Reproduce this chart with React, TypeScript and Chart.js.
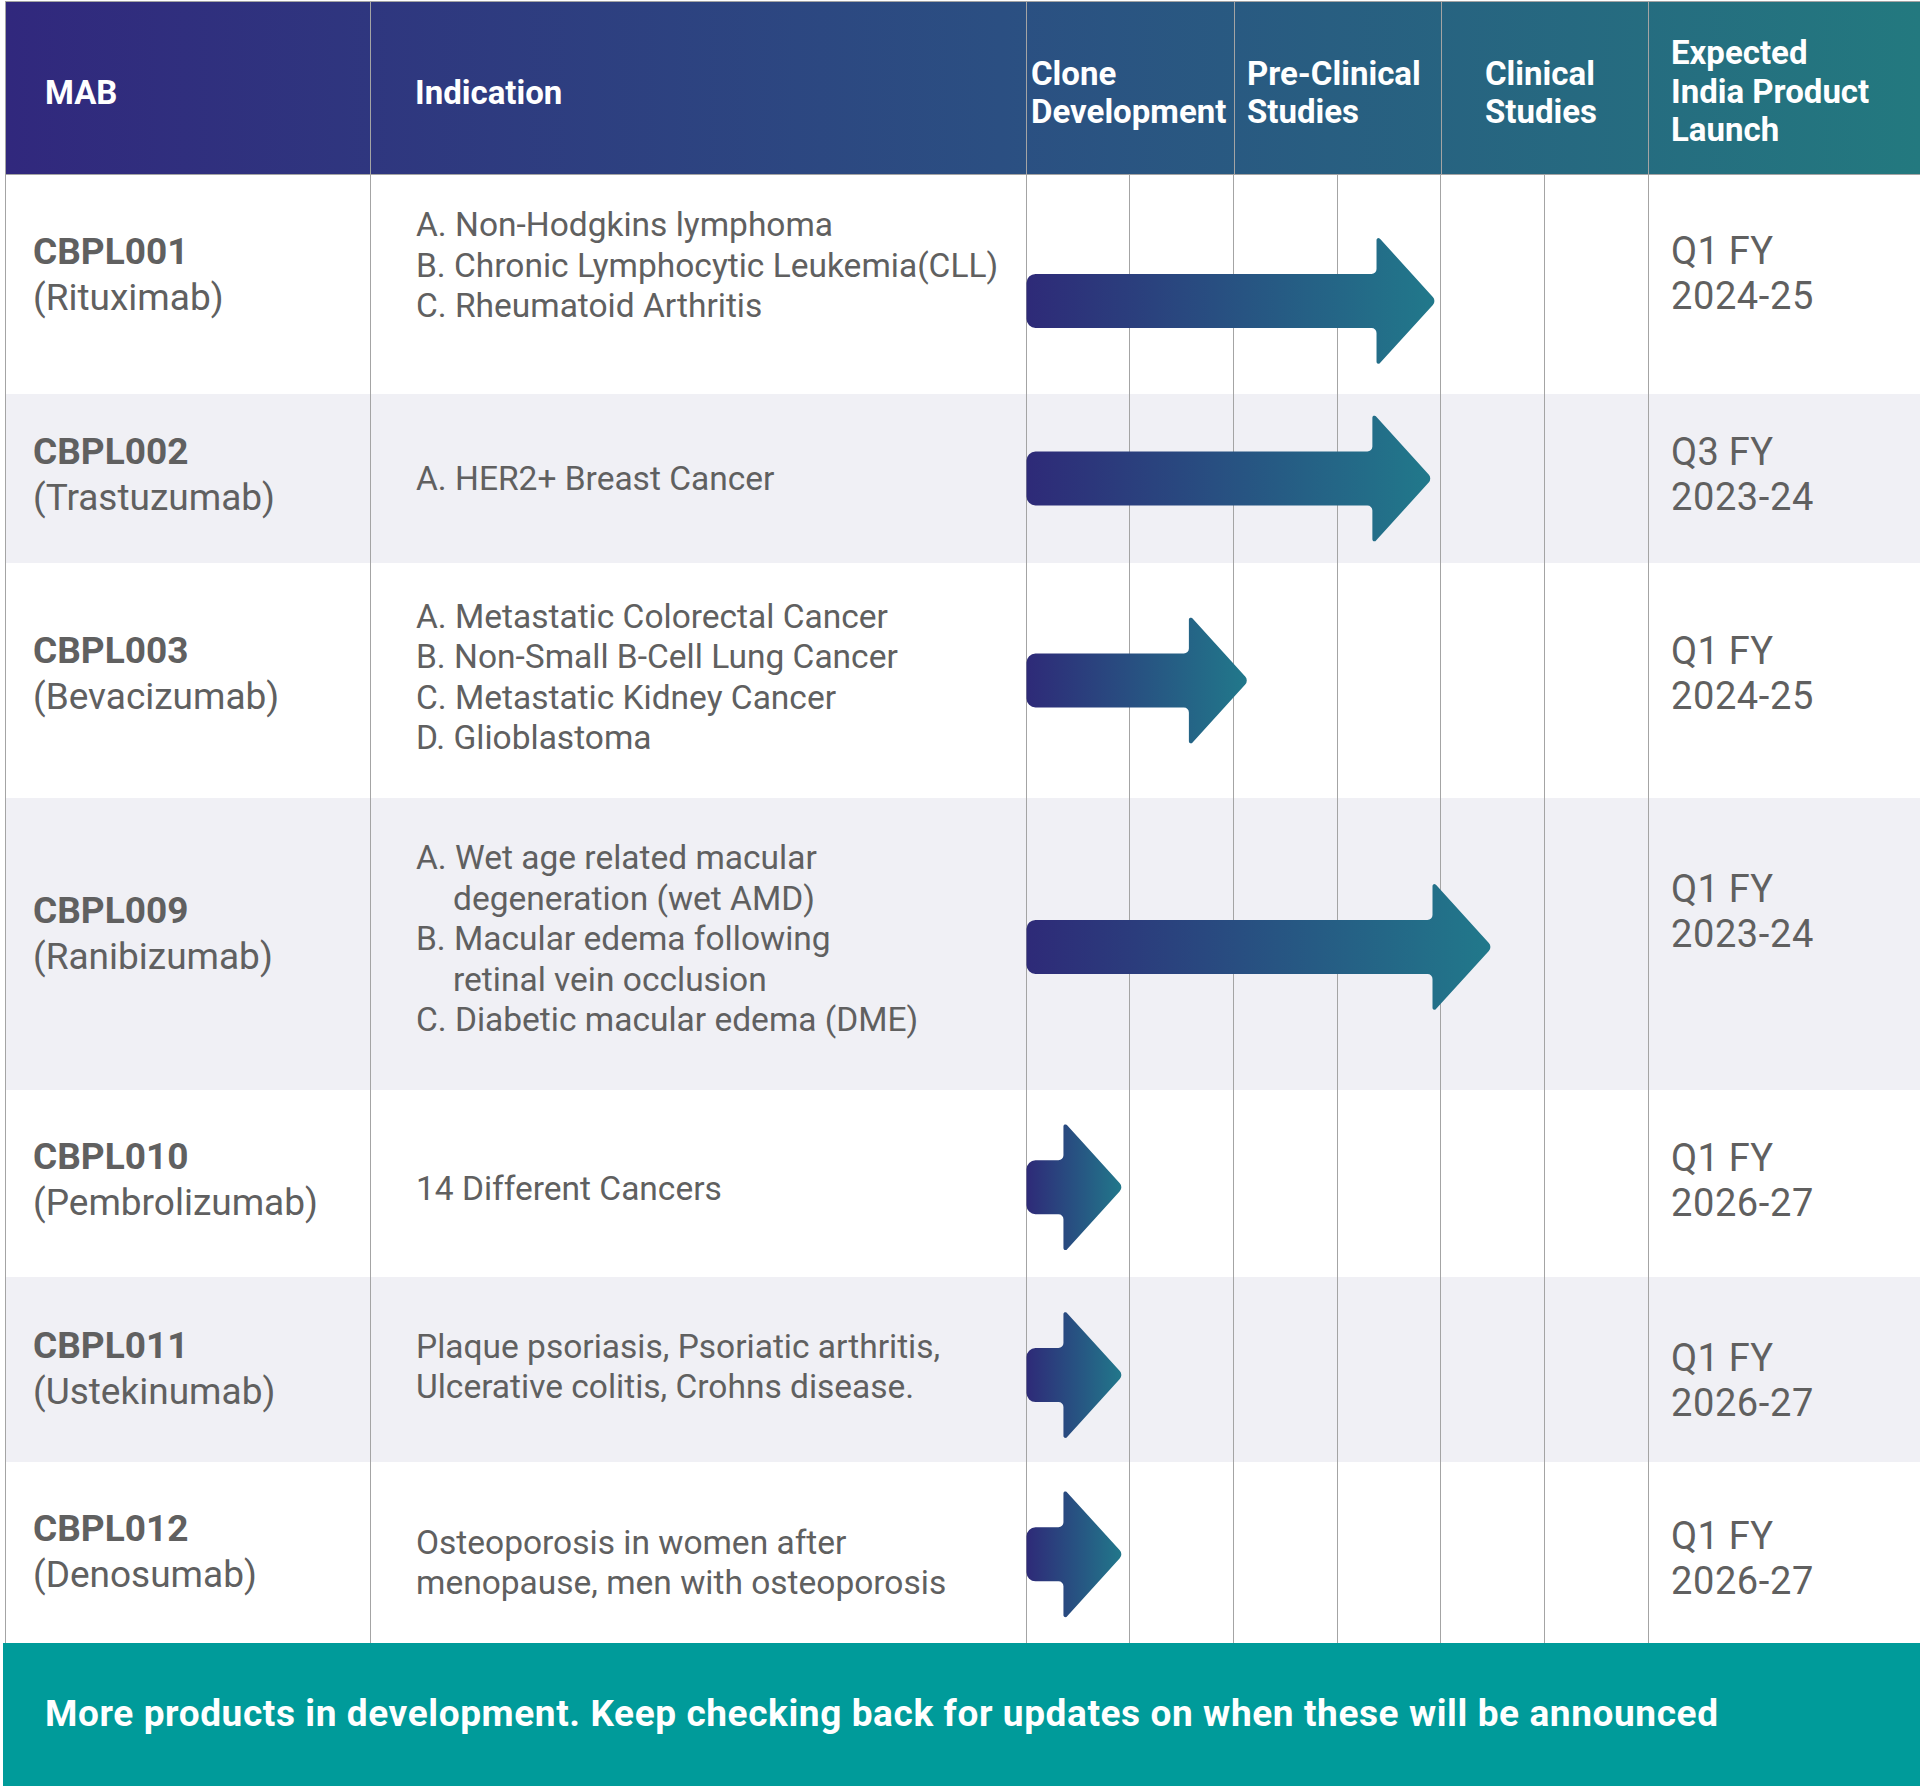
import React, { useEffect, useRef } from "react";
import { Chart, registerables } from "chart.js";

Chart.register(...registerables);

// ---------------- DATA ----------------
const HEADER_MAB = "MAB";
const HEADER_INDICATION = "Indication";
const STAGE_HEADERS: string[][] = [
  ["Clone", "Development"],
  ["Pre-Clinical", "Studies"],
  ["Clinical", "Studies"],
];
const HEADER_LAUNCH: string[] = ["Expected", "India Product", "Launch"];

const MAB_CODES = ["CBPL001", "CBPL002", "CBPL003", "CBPL009", "CBPL010", "CBPL011", "CBPL012"];
const MAB_NAMES = [
  "(Rituximab)",
  "(Trastuzumab)",
  "(Bevacizumab)",
  "(Ranibizumab)",
  "(Pembrolizumab)",
  "(Ustekinumab)",
  "(Denosumab)",
];
// "|" marks a wrapped continuation line (hanging indent)
const INDICATIONS: string[][] = [
  ["A. Non-Hodgkins lymphoma", "B. Chronic Lymphocytic Leukemia(CLL)", "C. Rheumatoid Arthritis"],
  ["A. HER2+ Breast Cancer"],
  [
    "A. Metastatic Colorectal Cancer",
    "B. Non-Small B-Cell Lung Cancer",
    "C. Metastatic Kidney Cancer",
    "D. Glioblastoma",
  ],
  [
    "A. Wet age related macular|degeneration (wet AMD)",
    "B. Macular edema following|retinal vein occlusion",
    "C. Diabetic macular edema (DME)",
  ],
  ["14 Different Cancers"],
  ["Plaque psoriasis, Psoriatic arthritis,", "Ulcerative colitis, Crohns disease."],
  ["Osteoporosis in women after", "menopause, men with osteoporosis"],
];
// progress reached on the stage axis (0..6, each stage spans 2 units)
const PROGRESS = [3.96, 3.92, 2.15, 4.5, 0.94, 0.94, 0.94];
const LAUNCH_QUARTER = ["Q1 FY", "Q3 FY", "Q1 FY", "Q1 FY", "Q1 FY", "Q1 FY", "Q1 FY"];
const LAUNCH_YEAR = ["2024-25", "2023-24", "2024-25", "2023-24", "2026-27", "2026-27", "2026-27"];
const FOOTER_NOTE =
  "More products in development. Keep checking back for updates on when these will be announced";

// ---------------- LAYOUT / STYLE ----------------
const PAGE_W = 1920;
const PAGE_H = 1786;
const HEADER_TOP = 2;
const BODY_TOP = 175;
const ROW_HEIGHTS = [219, 169, 235, 292, 187, 185, 181];
const ARROW_ROW_POS = [0.575, 0.5, 0.5, 0.51, 0.52, 0.53, 0.51]; // vertical placement of arrow within row
const BODY_H = ROW_HEIGHTS.reduce((a, b) => a + b, 0);
const BODY_BOTTOM = BODY_TOP + BODY_H;
const X_LEFT = 5;
const X_IND = 370;
const X_STAGE0 = 1026;
const X_STAGE_END = 1648;
const HEADER_DIVIDERS = [1026, 1234, 1441, 1648];

const MAB_TEXT_Y = [275, 474.5, 674, 934, 1179.5, 1368.5, 1552];
const IND_TEXT_Y = [266, 479, 677.5, 939.5, 1189, 1367, 1563];
const LAUNCH_TEXT_Y = [273.5, 475, 673.5, 911.5, 1181, 1381, 1558.5];

const FONT = "Roboto, 'Liberation Sans', Arial, sans-serif";
const TEXT_COLOR = "#606060";
const LINE_COLOR = "#a4a4a4";
const SHADE = "#f0f0f5";
const TEAL = "#009b9a";
const ARROW_LEFT = "#2e2a78";
const ARROW_RIGHT = "#21798b";
const BAR_THICK = 54;
const HEAD_H = 132;
const HEAD_L = 60;

const CANVAS_LEFT = 1020;
const CANVAS_W = 640;
const PAD_L = X_STAGE0 - CANVAS_LEFT;
const PAD_R = CANVAS_W - PAD_L - (X_STAGE_END - X_STAGE0);

function roundedPoly(ctx: CanvasRenderingContext2D, pts: number[][]) {
  const n = pts.length;
  const first = pts[0];
  const last = pts[n - 1];
  ctx.beginPath();
  ctx.moveTo((last[0] + first[0]) / 2, (last[1] + first[1]) / 2);
  for (let i = 0; i < n; i++) {
    const p = pts[i];
    const q = pts[(i + 1) % n];
    ctx.arcTo(p[0], p[1], q[0], q[1], p[2]);
  }
  ctx.closePath();
}

const arrowPlugin = {
  id: "arrowShapes",
  afterDatasetsDraw(chart: any) {
    const ctx: CanvasRenderingContext2D = chart.ctx;
    const meta = chart.getDatasetMeta(0);
    meta.data.forEach((bar: any) => {
      const { x, y, base, height } = bar.getProps(["x", "y", "base", "height"], true);
      const xs = base;
      const xe = x;
      const bh = height;
      const hh = HEAD_H;
      const hb = xe - HEAD_L;
      const pts = [
        [xs, y - bh / 2, 9],
        [hb, y - bh / 2, 5],
        [hb, y - hh / 2, 2],
        [xe, y, 6],
        [hb, y + hh / 2, 2],
        [hb, y + bh / 2, 5],
        [xs, y + bh / 2, 9],
      ];
      const g = ctx.createLinearGradient(xs, 0, xe, 0);
      g.addColorStop(0, ARROW_LEFT);
      g.addColorStop(1, ARROW_RIGHT);
      ctx.save();
      roundedPoly(ctx, pts);
      ctx.fillStyle = g;
      ctx.fill();
      ctx.restore();
    });
  },
};

function TextLine(props: {
  text: string;
  x: number;
  cy: number;
  size: number;
  lh: number;
  weight?: number;
  color?: string;
  spacing?: number;
}) {
  const { text, x, cy, size, lh, weight = 400, color = TEXT_COLOR, spacing = 0 } = props;
  return (
    <div
      style={{
        position: "absolute",
        left: x,
        top: cy - lh / 2,
        height: lh,
        lineHeight: `${lh}px`,
        fontSize: size,
        fontWeight: weight,
        color,
        letterSpacing: spacing,
        whiteSpace: "nowrap",
      }}
    >
      {text}
    </div>
  );
}

export default function App() {
  const canvasRef = useRef<HTMLCanvasElement>(null);

  const rowTops: number[] = [];
  {
    let acc = 0;
    ROW_HEIGHTS.forEach((h) => {
      rowTops.push(acc);
      acc += h;
    });
  }

  useEffect(() => {
    const canvas = canvasRef.current;
    if (!canvas) return;
    const centers = ROW_HEIGHTS.map((h, i) => rowTops[i] + h * ARROW_ROW_POS[i]);
    const chart = new Chart(canvas, {
      type: "bar",
      data: {
        datasets: [
          {
            data: PROGRESS.map((v, i) => ({ x: [0, v], y: centers[i] })) as any,
            backgroundColor: "rgba(0,0,0,0)",
            borderWidth: 0,
            barThickness: BAR_THICK,
          },
        ],
      },
      options: {
        indexAxis: "y",
        responsive: false,
        animation: false,
        events: [],
        layout: { padding: { left: PAD_L, right: PAD_R, top: 0, bottom: 0 } },
        plugins: { legend: { display: false }, tooltip: { enabled: false } },
        scales: {
          x: {
            type: "linear",
            min: 0,
            max: 6,
            offset: false,
            ticks: { display: false, stepSize: 1 },
            grid: { color: LINE_COLOR, lineWidth: 1, drawTicks: false, offset: false },
            border: { display: false },
          },
          y: {
            type: "linear",
            min: 0,
            max: BODY_H,
            reverse: true,
            offset: false,
            display: false,
            grid: { offset: false },
          },
        },
      },
      plugins: [arrowPlugin],
    });
    return () => chart.destroy();
  }, []);

  const headerCy = 93;
  const stageHeaderX = [1031, 1247, 1485];

  return (
    <div
      style={{
        position: "absolute",
        left: 0,
        top: 0,
        width: PAGE_W,
        height: PAGE_H,
        background: "#ffffff",
        overflow: "hidden",
        fontFamily: FONT,
      }}
    >
      {/* row shading */}
      {ROW_HEIGHTS.map((h, i) => (
        <div
          key={"r" + i}
          style={{
            position: "absolute",
            left: X_LEFT + 1,
            top: BODY_TOP + rowTops[i],
            width: PAGE_W - X_LEFT - 1,
            height: h,
            background: i % 2 === 1 ? SHADE : "#ffffff",
          }}
        />
      ))}

      {/* header */}
      <div
        style={{
          position: "absolute",
          left: X_LEFT + 1,
          top: HEADER_TOP,
          width: PAGE_W - X_LEFT - 1,
          height: BODY_TOP - HEADER_TOP,
          background: "linear-gradient(90deg, #31287d 0%, #2b4f82 52%, #23797f 100%)",
        }}
      />
      <div style={{ position: "absolute", left: X_LEFT, top: 1, width: PAGE_W - X_LEFT, height: 1, background: LINE_COLOR }} />
      <div style={{ position: "absolute", left: X_LEFT, top: BODY_TOP - 1, width: PAGE_W - X_LEFT, height: 1, background: LINE_COLOR }} />
      {HEADER_DIVIDERS.map((x) => (
        <div key={"hd" + x} style={{ position: "absolute", left: x, top: 1, width: 1, height: BODY_TOP - 1, background: LINE_COLOR }} />
      ))}
      <div style={{ position: "absolute", left: X_LEFT, top: 1, width: 1, height: BODY_BOTTOM - 1, background: LINE_COLOR }} />
      <div style={{ position: "absolute", left: X_IND, top: 1, width: 1, height: BODY_BOTTOM - 1, background: LINE_COLOR }} />

      <TextLine text={HEADER_MAB} x={45} cy={headerCy} size={33} lh={38.5} weight={700} color="#ffffff" />
      <TextLine text={HEADER_INDICATION} x={415} cy={headerCy} size={33} lh={38.5} weight={700} color="#ffffff" />
      {STAGE_HEADERS.map((lines, si) =>
        lines.map((t, li) => (
          <TextLine
            key={"sh" + si + li}
            text={t}
            x={stageHeaderX[si]}
            cy={headerCy + (li - (lines.length - 1) / 2) * 38.5}
            size={33}
            lh={38.5}
            weight={700}
            color="#ffffff"
          />
        ))
      )}
      {HEADER_LAUNCH.map((t, li) => (
        <TextLine
          key={"hl" + li}
          text={t}
          x={1671}
          cy={92 + (li - (HEADER_LAUNCH.length - 1) / 2) * 38.5}
          size={33}
          lh={38.5}
          weight={700}
          color="#ffffff"
        />
      ))}

      {/* body text */}
      {MAB_CODES.map((code, i) => (
        <React.Fragment key={"m" + i}>
          <TextLine text={code} x={33} cy={MAB_TEXT_Y[i] - 23} size={37} lh={46} weight={700} />
          <TextLine text={MAB_NAMES[i]} x={33} cy={MAB_TEXT_Y[i] + 23} size={37} lh={46} />
        </React.Fragment>
      ))}
      {INDICATIONS.map((items, i) => {
        const lines: { t: string; indent: boolean }[] = [];
        items.forEach((it) => {
          it.split("|").forEach((t, k) => lines.push({ t, indent: k > 0 }));
        });
        const lh = 40.5;
        return lines.map((ln, k) => (
          <TextLine
            key={"i" + i + "_" + k}
            text={ln.t}
            x={ln.indent ? 453 : 416}
            cy={IND_TEXT_Y[i] + (k - (lines.length - 1) / 2) * lh}
            size={33.5}
            lh={lh}
          />
        ));
      })}
      {LAUNCH_QUARTER.map((q, i) => (
        <React.Fragment key={"l" + i}>
          <TextLine text={q} x={1671} cy={LAUNCH_TEXT_Y[i] - 22.5} size={38} lh={45} spacing={0.3} />
          <TextLine text={LAUNCH_YEAR[i]} x={1671} cy={LAUNCH_TEXT_Y[i] + 22.5} size={38} lh={45} spacing={0.6} />
        </React.Fragment>
      ))}

      {/* stage grid + arrows */}
      <canvas
        ref={canvasRef}
        width={CANVAS_W}
        height={BODY_H}
        style={{ position: "absolute", left: CANVAS_LEFT, top: BODY_TOP, width: CANVAS_W, height: BODY_H }}
      />

      {/* footer */}
      <div
        style={{
          position: "absolute",
          left: 3,
          top: BODY_BOTTOM,
          width: PAGE_W - 3,
          height: PAGE_H - BODY_BOTTOM,
          background: TEAL,
        }}
      />
      <TextLine text={FOOTER_NOTE} x={45} cy={1714} size={37} lh={44} weight={700} color="#ffffff" spacing={0.6} />
    </div>
  );
}
